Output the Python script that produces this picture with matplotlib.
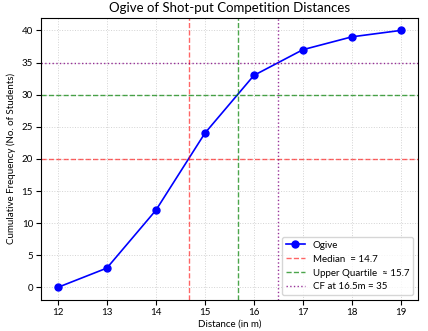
import matplotlib
matplotlib.use("Agg")
import matplotlib.pyplot as plt

# cumulative frequency per upper boundary
distance = [12, 13, 14, 15, 16, 17, 18, 19]
cum_freq = [0, 3, 12, 24, 33, 37, 39, 40]

median_x = 14.67
median_y = 20
uq_x = 15.67
uq_y = 30
cf_x = 16.5
cf_y = 35

plt.rcParams['font.family'] = ['Lato', 'DejaVu Sans']

fig, ax = plt.subplots(figsize=(4.28, 3.31), dpi=100)

ax.plot(distance, cum_freq, color='blue', marker='o', markersize=5,
        linewidth=1.2, label='Ogive')

ax.axvline(median_x, color='red', linestyle='--', alpha=0.6, linewidth=1,
           label='Median  = 14.7')
ax.axhline(median_y, color='red', linestyle='--', alpha=0.6, linewidth=1)

ax.axvline(uq_x, color='green', linestyle='--', alpha=0.7, linewidth=1,
           label='Upper Quartile  \u2248 15.7')
ax.axhline(uq_y, color='green', linestyle='--', alpha=0.7, linewidth=1)

ax.axvline(cf_x, color='purple', linestyle=':', alpha=0.8, linewidth=1,
           label='CF at 16.5m = 35')
ax.axhline(cf_y, color='purple', linestyle=':', alpha=0.8, linewidth=1)

ax.set_title('Ogive of Shot-put Competition Distances', fontsize=9.5, pad=4)
ax.set_xlabel('Distance (in m)', fontsize=7, labelpad=2)
ax.set_ylabel('Cumulative Frequency (No. of Students)', fontsize=7)
ax.set_xticks(distance)
ax.tick_params(labelsize=7, pad=2)
ax.grid(True, linestyle=':', color='lightgray', linewidth=0.7)
ax.legend(loc='lower right', fontsize=7)

fig.subplots_adjust(left=0.095, right=0.977, top=0.947, bottom=0.093)
fig.savefig('out.png', dpi=100)
